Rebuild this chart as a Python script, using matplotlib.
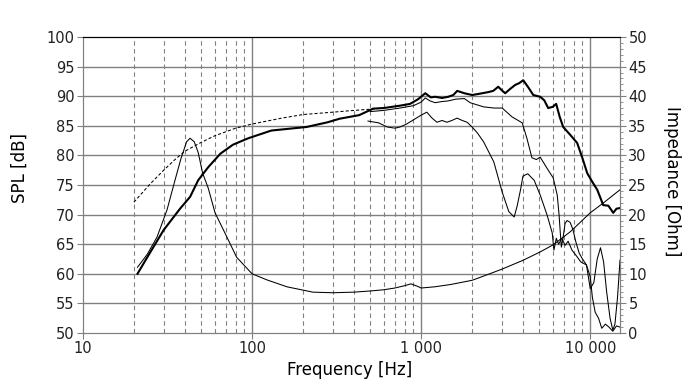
import numpy as np
import matplotlib
matplotlib.use("Agg")
import matplotlib.pyplot as plt
from matplotlib.ticker import FixedLocator, NullFormatter, MultipleLocator

# on-axis SPL (thick)
spl_f = [21, 24, 30, 37.5, 43, 48, 55, 65, 77, 95, 130, 210, 280, 330, 430, 520, 600, 750,
         860, 960, 1058, 1140, 1211, 1330, 1445, 1550, 1634, 1800, 2005, 2300, 2500, 2668,
         2858, 3000, 3141, 3350, 3597, 3800, 4016, 4300, 4605, 5060, 5350, 5640, 6000, 6290,
         6600, 6920, 7600, 8370, 9000, 9600, 10300, 11000, 11940, 12800, 13680, 14300, 15000]
spl_db = [60.0, 62.8, 67.4, 71.0, 73.0, 75.8, 78.0, 80.3, 81.8, 82.9, 84.2, 84.8, 85.6, 86.2,
          86.8, 87.9, 88.0, 88.4, 88.7, 89.5, 90.5, 89.8, 89.9, 89.7, 89.9, 90.2, 90.9, 90.5,
          90.2, 90.5, 90.7, 90.9, 91.6, 91.0, 90.5, 91.2, 91.9, 92.2, 92.7, 91.5, 90.2, 89.9,
          89.3, 88.0, 88.2, 88.7, 86.5, 84.8, 83.5, 82.1, 79.5, 77.0, 75.5, 74.2, 71.6, 71.5,
          70.3, 71.0, 71.1]

# off-axis 1 (thin, upper)
off1_f = [500, 600, 750, 900, 1000, 1058, 1130, 1211, 1330, 1445, 1600, 1800, 1950, 2340,
          2700, 3015, 3450, 3960, 4220, 4520, 4800, 5060, 5560, 6040, 6380, 6540, 6650, 6750,
          6900, 7100, 7300, 7600, 7900, 8200, 8600, 9000, 9500, 10000, 10500, 11000, 11500,
          12000, 12500, 13100, 13600, 14000, 14500, 15000]
off1_db = [87.4, 87.6, 88.0, 88.4, 89.0, 89.7, 89.2, 88.9, 89.1, 89.2, 89.5, 89.6, 88.9, 88.2,
           88.0, 88.0, 86.5, 85.5, 82.9, 79.6, 79.3, 79.7, 77.8, 76.2, 73.3, 70.0, 67.0, 64.5,
           66.0, 68.5, 69.0, 68.7, 67.5, 65.5, 63.5, 62.5, 61.5, 57.5, 58.5, 62.5, 64.4, 62.0,
           57.0, 52.5, 50.5, 51.5, 56.0, 62.3]

# off-axis 2 (thin, lower)
off2_f = [485, 560, 630, 700, 750, 820, 900, 1000, 1080, 1160, 1240, 1330, 1420, 1520, 1630,
          1750, 1870, 2000, 2150, 2340, 2690, 3015, 3300, 3550, 3700, 3870, 4000, 4270, 4660,
          5060, 5560, 5960, 6100, 6300, 6500, 6800, 7100, 7400, 7800, 8300, 8800, 9500, 10000,
          10300, 10700, 11200, 11700, 12300, 12900, 13600, 14300, 15000]
off2_db = [85.8, 85.5, 84.8, 84.6, 84.8, 85.3, 86.0, 86.8, 87.3, 86.3, 85.6, 85.9, 85.6, 85.9,
           86.3, 85.9, 85.6, 84.8, 83.8, 82.3, 78.9, 73.8, 70.5, 69.6, 71.5, 74.2, 76.5, 76.9,
           75.8, 73.3, 69.9, 66.9, 64.0, 66.0, 65.0, 66.0, 64.8, 65.5, 64.0, 63.0, 62.0, 61.5,
           59.5, 56.0, 53.5, 52.5, 50.8, 51.5, 51.0, 50.3, 51.2, 51.0]

# simulated response (dashed)
sim_f = [20, 25, 30, 35, 40, 50, 60, 80, 100, 150, 200, 300, 400, 500, 600]
sim_db = [72.1, 75.2, 77.5, 79.3, 80.7, 82.2, 83.3, 84.6, 85.3, 86.3, 86.9, 87.3, 87.6, 87.8, 88.0]

# impedance (right axis)
imp_f = [21, 24, 27.4, 31.4, 35, 38, 41, 43, 45.5, 48, 51, 55, 60.4, 71, 81, 100, 123, 161,
         229, 300, 400, 500, 600, 700, 800, 870, 950, 1000, 1200, 1500, 2000, 2234, 3015,
         4020, 5060, 6040, 7620, 10000, 12000, 15000]
imp_ohm = [11.1, 13.3, 16.2, 20.8, 25.8, 29.5, 32.3, 32.9, 32.3, 30.5, 27.0, 24.5, 20.3, 16.2,
           12.8, 10.0, 8.95, 7.8, 6.9, 6.8, 6.9, 7.1, 7.3, 7.6, 8.0, 8.3, 7.9, 7.6, 7.8, 8.2,
           8.9, 9.4, 10.8, 12.3, 13.7, 14.9, 17.1, 20.3, 22.0, 24.2]

xticks = [10, 100, 1000, 10000]
xlabels = ["10", "100", "1 000", "10 000"]

grid_c = "#808080"
W, H = 686, 382
fig = plt.figure(figsize=(W / 100, H / 100), dpi=100)
ax = fig.add_axes([83 / W, 1 - 333 / H, 537 / W, 296 / H])
ax.set_xscale("log")
ax.set_xlim(10, 15000)
ax.set_ylim(50, 100)

# grid
for y in range(55, 100, 5):
    ax.axhline(y, color=grid_c, lw=1.0, zorder=1)
minors = [m * d for d in (10, 100, 1000) for m in range(2, 10) if m * d < 15000]
for x in minors:
    ax.axvline(x, color=grid_c, lw=0.8, dashes=(4, 3), zorder=1)
for x in (100, 1000, 10000):
    ax.axvline(x, color=grid_c, lw=1.0, zorder=1)

ax.plot(sim_f, sim_db, color="k", lw=0.75, dashes=(3, 2), zorder=3)
ax.plot(off1_f, off1_db, color="k", lw=0.75, zorder=3)
ax.plot(off2_f, off2_db, color="k", lw=0.75, zorder=3)
ax.plot(spl_f, spl_db, color="k", lw=1.5, zorder=4)

ax.xaxis.set_major_locator(FixedLocator(xticks))
ax.set_xticklabels(xlabels)
ax.xaxis.set_minor_locator(FixedLocator(minors))
ax.xaxis.set_minor_formatter(NullFormatter())
ax.yaxis.set_major_locator(MultipleLocator(5))
ax.tick_params(axis="x", which="minor", length=0)
ax.tick_params(axis="both", which="major", length=4, color=grid_c, labelsize=10.5,
               labelcolor="#222222", pad=2)
for s in ("left", "bottom", "right"):
    ax.spines[s].set_color(grid_c)
ax.spines["top"].set_color("k")

ax2 = ax.twinx()
ax2.set_ylim(0, 50)
ax2.plot(imp_f, imp_ohm, color="k", lw=0.75, zorder=3)
ax2.yaxis.set_major_locator(MultipleLocator(5))
ax2.yaxis.set_minor_locator(MultipleLocator(1))
ax2.tick_params(axis="y", which="major", length=4, color=grid_c, labelsize=10.5,
                labelcolor="#222222", pad=2)
ax2.tick_params(axis="y", which="minor", length=2, color=grid_c)
for s in ("left", "bottom", "right"):
    ax2.spines[s].set_color(grid_c)
ax2.spines["top"].set_color("k")

# axis titles placed as in the reference
fig.text(350 / W, 1 - 370 / H, "Frequency [Hz]", fontsize=12, ha="center", va="center")
fig.text(20 / W, 1 - 168 / H, "SPL [dB]", fontsize=12, rotation=90, ha="center", va="center")
fig.text(672 / W, 1 - 181 / H, "Impedance [Ohm]", fontsize=12, rotation=270,
         ha="center", va="center")

fig.savefig("out.png", dpi=100)
